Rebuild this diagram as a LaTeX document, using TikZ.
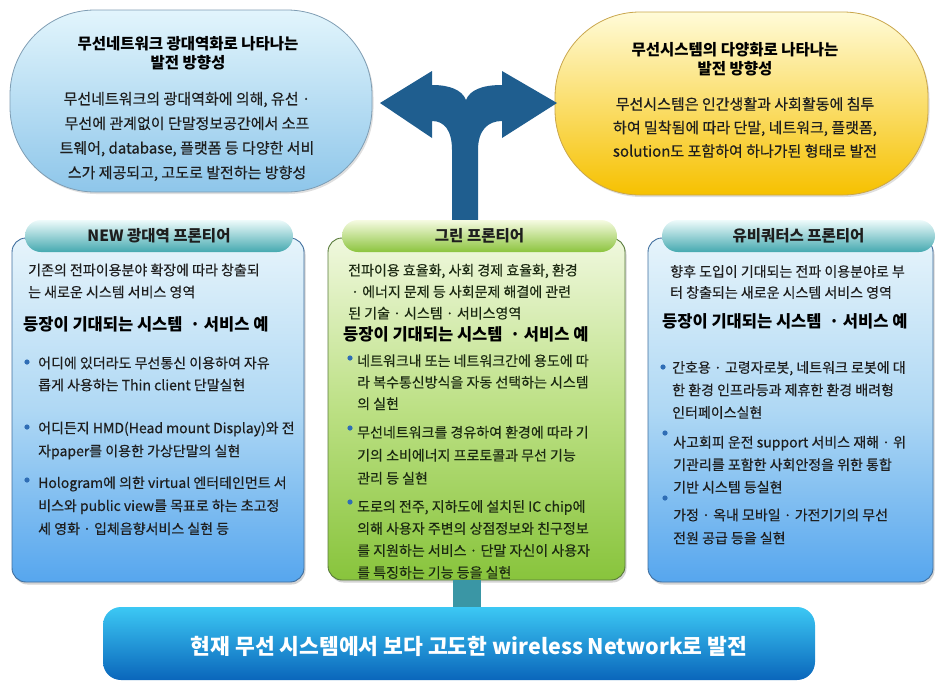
\documentclass[tikz,border=0pt]{standalone}
\usepackage{fontspec}
\setmainfont{Noto Sans CJK KR}[UprightFeatures={FakeBold=0.35}]
\usetikzlibrary{shapes.misc,shadows,calc}
\definecolor{arrowblue}{HTML}{1F5E8F}
\definecolor{conn}{HTML}{3A96A5}
\definecolor{ink}{HTML}{1E1E1E}
\definecolor{greenink}{HTML}{1C2A12}
\definecolor{lbtop}{HTML}{E2F5FC}
\definecolor{lbbot}{HTML}{8EC6EA}
\definecolor{lbline}{HTML}{7F9DB3}
\definecolor{ybtop}{HTML}{FFFBD8}
\definecolor{ybbot}{HTML}{F6C100}
\definecolor{ybline}{HTML}{C9A64C}
\definecolor{ptop}{HTML}{E6F4FB}
\definecolor{pmid}{HTML}{AFD8F4}
\definecolor{pbot}{HTML}{56A6EE}
\definecolor{pline}{HTML}{3F6E9E}
\definecolor{gtop}{HTML}{F0F8DE}
\definecolor{gmid}{HTML}{BCE084}
\definecolor{gbot}{HTML}{88C43C}
\definecolor{gline}{HTML}{587A3A}
\definecolor{tealtop}{HTML}{EEFBFB}
\definecolor{tealbot}{HTML}{45A9B0}
\definecolor{gptop}{HTML}{F6FBE2}
\definecolor{gpbot}{HTML}{8CC43E}
\definecolor{bartop}{HTML}{3CC8F4}
\definecolor{barbot}{HTML}{0A66BB}
\definecolor{bulletc}{HTML}{2F6DB5}
\begin{document}
\begin{tikzpicture}[x=1pt,y=-1pt,
  bubble/.style={draw=#1, line width=0.8pt, rounded corners=85pt, inner sep=0pt,
    drop shadow={opacity=0.25, shadow xshift=1.5pt, shadow yshift=-2pt}},
  panel/.style={draw=#1, line width=0.9pt, rounded corners=14pt, inner sep=0pt,
    drop shadow={opacity=0.35, shadow xshift=1.5pt, shadow yshift=-2.5pt}},
  pill/.style={rounded corners=16pt, minimum height=32pt, inner sep=0pt,
    font=\fontsize{15.5}{18}\selectfont\bfseries, text=ink},
  titletxt/.style={inner sep=0pt, align=center, text=black,
    font=\fontsize{15.5}{19}\selectfont\bfseries},
  ellbody/.style={inner sep=0pt, align=center, text=ink},
  bodytxt/.style={inner sep=0pt, anchor=west, align=left, text=ink},
  headtxt/.style={inner sep=0pt, anchor=west, text=black,
    font=\fontsize{16.5}{20}\selectfont\bfseries},
  dot/.style={fill=bulletc}
]
\useasboundingbox (0,0) rectangle (936,681);

% ---- top bubbles
\node[bubble=lbline, top color=lbtop, bottom color=lbbot,
  minimum width=362pt, minimum height=182pt] (lell) at (191,101) {};
\node[bubble=ybline, top color=ybtop, bottom color=ybbot,
  minimum width=373pt, minimum height=183pt] (rell) at (741.5,103.5) {};

\node[titletxt] (ltitle) at (188,53.5) {무선네트워크 광대역화로 나타나는\\발전 방향성};
\node[ellbody, font=\fontsize{15}{24.6}\selectfont] (lbody) at (187,136.5)
  {무선네트워크의 광대역화에 의해, 유선 ·\\무선에 관계없이 단말정보공간에서 소프\\트웨어, database, 플랫폼 등 다양한 서비\\스가 제공되고, 고도로 발전하는 방향성};

\node[titletxt] (rtitle) at (735,59) {무선시스템의 다양화로 나타나는\\발전 방향성};
\node[ellbody, font=\fontsize{15}{23.5}\selectfont] (rbody) at (745,127.5)
  {무선시스템은 인간생활과 사회활동에 침투\\하여 밀착됨에 따라 단말, 네트워크, 플랫폼,\\solution도 포함하여 하나가된 형태로 발전};

% ---- forked arrow
\fill[arrowblue] (380,103) -- (432,71) -- (432,85)
  .. controls (450,85) and (462,90) .. (466,100)
  .. controls (470,90) and (482,85) .. (502,85)
  -- (502,71) -- (557,103) -- (502,138) -- (502,121)
  .. controls (488,121) and (478,130) .. (478,150)
  -- (478,226) -- (452,226) -- (452,150)
  .. controls (452,130) and (444,121) .. (432,121)
  -- (432,138) -- cycle;

% ---- panels
\node[panel=pline, top color=ptop, bottom color=pbot, middle color=pmid,
  minimum width=292pt, minimum height=344pt] (lpanel) at (158,410) {};
\node[panel=gline, top color=gtop, bottom color=gbot, middle color=gmid,
  minimum width=297pt, minimum height=342pt] (mpanel) at (476.5,409) {};
\node[panel=pline, top color=ptop, bottom color=pbot, middle color=pmid,
  minimum width=285pt, minimum height=344pt] (rpanel) at (790.5,410) {};

% ---- pills
\node[pill, top color=tealtop, bottom color=tealbot, minimum width=268pt] (lpill) at (159,236) {NEW 광대역 프론티어};
\node[pill, top color=gptop, bottom color=gpbot, minimum width=275pt] (mpill) at (479.5,236) {그린 프론티어};
\node[pill, top color=tealtop, bottom color=tealbot, minimum width=273pt] (rpill) at (798.5,236) {유비쿼터스 프론티어};

% ---- left panel text
\node[bodytxt, font=\fontsize{14}{22}\selectfont] (l1) at (28,281)
  {기존의 전파이용분야 확장에 따라 창출되\\는 새로운 시스템 서비스 영역};
\node[headtxt] (l2) at (23,324) {등장이 기대되는 시스템 \ · 서비스 예};
\fill[dot] (27,362) circle (2.6);
\node[bodytxt, font=\fontsize{14}{22}\selectfont] (l3) at (38,374)
  {어디에 있더라도 무선통신 이용하여 자유\\롭게 사용하는 Thin client 단말실현};
\fill[dot] (27,427) circle (2.6);
\node[bodytxt, font=\fontsize{14}{23}\selectfont] (l4) at (38,440.5)
  {어디든지 HMD(Head mount Display)와 전\\자paper를 이용한 가상단말의 실현};
\fill[dot] (27,480) circle (2.6);
\node[bodytxt, font=\fontsize{14}{23}\selectfont] (l5) at (38,505.7)
  {Hologram에 의한 virtual 엔터테인먼트 서\\비스와 public view를 목표로 하는 초고정\\세 영화 · 입체음향서비스 실현 등};

% ---- middle panel text
\node[bodytxt, text=greenink, font=\fontsize{14}{21.5}\selectfont] (m1) at (348,291.7)
  {전파이용 효율화, 사회 경제 효율화, 환경\\\hspace*{3pt}· 에너지 문제 등 사회문제 해결에 관련\\된 기술 · 시스템 · 서비스영역};
\node[headtxt] (m2) at (343,334) {등장이 기대되는 시스템 \ · 서비스 예};
\fill[dot] (350,358) circle (2.6);
\node[bodytxt, text=greenink, font=\fontsize{14}{21.5}\selectfont] (m3) at (357,382.3)
  {네트워크내 또는 네트워크간에 용도에 따\\라 복수통신방식을 자동 선택하는 시스템\\의 실현};
\fill[dot] (350,428) circle (2.6);
\node[bodytxt, text=greenink, font=\fontsize{14}{23}\selectfont] (m4) at (357,455.3)
  {무선네트워크를 경유하여 환경에 따라 기\\기의 소비에너지 프로토콜과 무선 기능\\관리 등 실현};
\fill[dot] (350,502) circle (2.6);
\node[bodytxt, text=greenink, font=\fontsize{14}{22}\selectfont] (m5) at (357,539.5)
  {도로의 전주, 지하도에 설치된 IC chip에\\의해 사용자 주변의 상점정보와 친구정보\\를 지원하는 서비스 · 단말 자신이 사용자\\를 특징하는 기능 등을 실현};

% ---- right panel text
\node[bodytxt, font=\fontsize{14}{21}\selectfont] (r1) at (670,282)
  {향후 도입이 기대되는 전파 이용분야로 부\\터 창출되는 새로운 시스템 서비스 영역};
\node[headtxt] (r2) at (662,321) {등장이 기대되는 시스템 \ · 서비스 예};
\fill[dot] (663,367) circle (2.6);
\node[bodytxt, font=\fontsize{14}{22.5}\selectfont] (r3) at (672,390)
  {간호용 · 고령자로봇, 네트워크 로봇에 대\\한 환경 인프라등과 제휴한 환경 배려형\\인터페이스실현};
\fill[dot] (665,433) circle (2.6);
\node[bodytxt, font=\fontsize{14}{22.5}\selectfont] (r4) at (673,464.7)
  {사고회피 운전 support 서비스 재해 · 위\\기관리를 포함한 사회안정을 위한 통합\\기반 시스템 등실현};
\fill[dot] (665,498) circle (2.6);
\node[bodytxt, font=\fontsize{14}{23}\selectfont] (r5) at (673,526.5)
  {가정 · 옥내 모바일 · 가전기기의 무선\\전원 공급 등을 실현};

% ---- bottom bar and connector
\coordinate (stemx) at (467,0);
\node[rounded corners=18pt, top color=bartop, bottom color=barbot,
  minimum width=712pt, minimum height=73pt, inner sep=0pt] (bar) at (459,643.5) {};
\draw[conn, line width=28pt] (mpanel.south -| stemx) -- (bar.north -| stemx);
\node[inner sep=0pt, text=white, font=\fontsize{21.5}{24}\selectfont\bfseries] (bartext) at (469,646)
  {현재 무선 시스템에서 보다 고도한 wireless Network로 발전};
\end{tikzpicture}
\end{document}
